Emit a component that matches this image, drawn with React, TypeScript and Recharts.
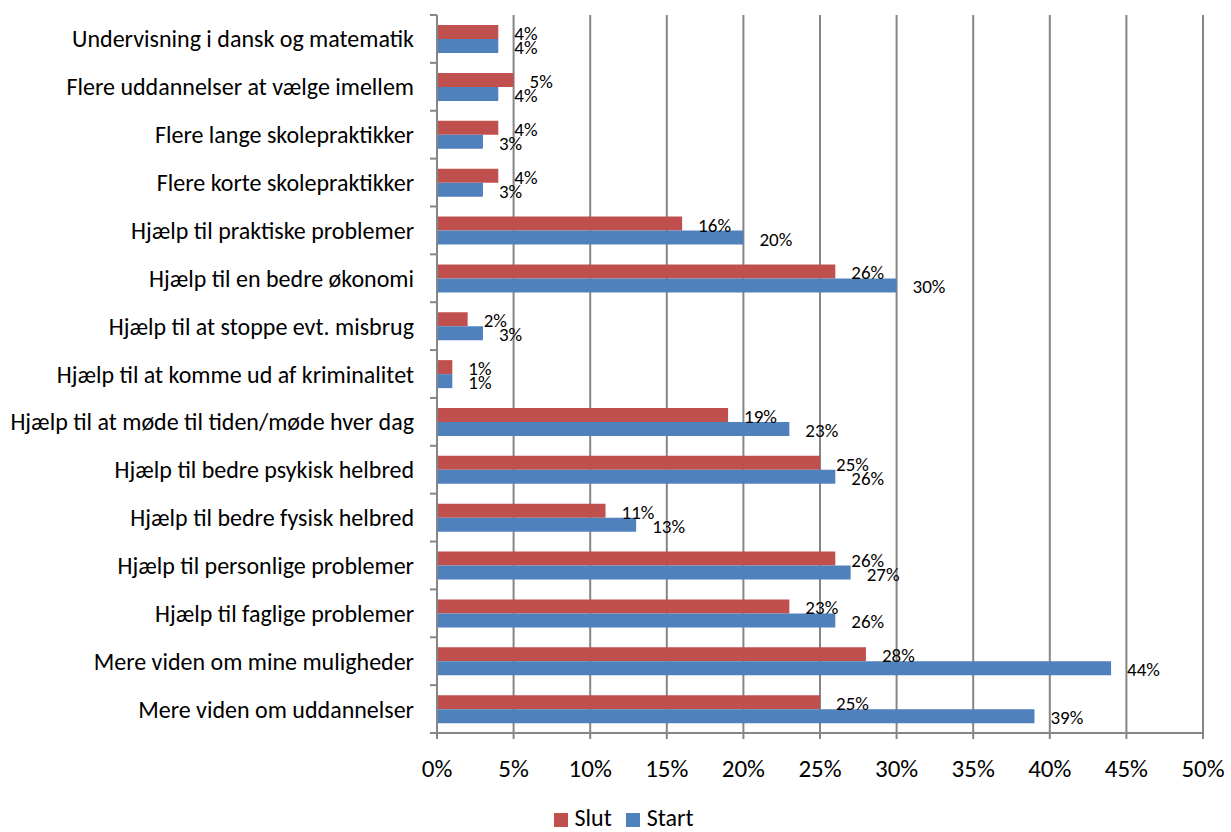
import React from "react";
import { BarChart, Bar, XAxis, YAxis, CartesianGrid, Legend, LabelList } from "recharts";

const categories = [
  "Undervisning i dansk og matematik",
  "Flere uddannelser at vælge imellem",
  "Flere lange skolepraktikker",
  "Flere korte skolepraktikker",
  "Hjælp til praktiske problemer",
  "Hjælp til en bedre økonomi",
  "Hjælp til at stoppe evt. misbrug",
  "Hjælp til at komme ud af kriminalitet",
  "Hjælp til at møde til tiden/møde hver dag",
  "Hjælp til bedre psykisk helbred",
  "Hjælp til bedre fysisk helbred",
  "Hjælp til personlige problemer",
  "Hjælp til faglige problemer",
  "Mere viden om mine muligheder",
  "Mere viden om uddannelser",
];

const slut = [4, 5, 4, 4, 16, 26, 2, 1, 19, 25, 11, 26, 23, 28, 25];
const start = [4, 4, 3, 3, 20, 30, 3, 1, 23, 26, 13, 27, 26, 44, 39];

const xTicks = [0, 5, 10, 15, 20, 25, 30, 35, 40, 45, 50];

const data = categories.map((name, i) => ({ name, slut: slut[i], start: start[i] }));

const FONT = "Carlito, Calibri, Lato, sans-serif";
const GRID = "#868686";
const PLOT_TOP = 15;
const PLOT_BOTTOM = 733;
const BAND = (PLOT_BOTTOM - PLOT_TOP) / categories.length;

// category label plus the Excel-style tick marks between categories
function CategoryTick(props: any) {
  const { x, y, payload, index } = props;
  return (
    <g>
      <line x1={x - 7} x2={x} y1={y - BAND / 2} y2={y - BAND / 2} stroke={GRID} strokeWidth={2} />
      {index === categories.length - 1 && (
        <line x1={x - 7} x2={x} y1={y + BAND / 2} y2={y + BAND / 2} stroke={GRID} strokeWidth={2} />
      )}
      <text x={x - 23} y={y} textAnchor="end" dominantBaseline="central" fontSize={24} fill="#000" fontFamily={FONT}>
        {payload.value}
      </text>
    </g>
  );
}

function EndLabel(props: any) {
  const { x, y, width, height, value } = props;
  return (
    <text x={x + width + 16} y={y + height / 2 + 1.5} dominantBaseline="central" fontSize={19} fill="#000" fontFamily={FONT}>
      {value}%
    </text>
  );
}

export default function App() {
  return (
    <div style={{ position: "absolute", left: 0, top: 0, width: 1231, height: 832, background: "#fff" }}>
      <BarChart
        width={1231}
        height={832}
        data={data}
        layout="vertical"
        margin={{ top: PLOT_TOP, right: 28, bottom: 0, left: 0 }}
        barCategoryGap="21%"
        barGap={0}
      >
        <CartesianGrid horizontal={false} stroke={GRID} strokeWidth={2} />
        <XAxis
          type="number"
          domain={[0, 50]}
          ticks={xTicks}
          tickFormatter={(v: number) => `${v}%`}
          stroke={GRID}
          strokeWidth={2}
          tickSize={6}
          tickMargin={20}
          height={71}
          tick={{ fill: "#000", fontSize: 25, fontFamily: FONT }}
          interval={0}
        />
        <YAxis
          type="category"
          dataKey="name"
          width={437}
          stroke={GRID}
          strokeWidth={2}
          tickLine={false}
          tickSize={0}
          tickMargin={0}
          interval={0}
          tick={<CategoryTick />}
        />
        <Legend
          verticalAlign="bottom"
          align="center"
          iconType="square"
          iconSize={14}
          wrapperStyle={{
            bottom: 0,
            left: 15,
            width: 1231,
            height: 28,
            lineHeight: "28px",
            fontFamily: FONT,
            fontSize: 24,
          }}
          formatter={(value: string) => (
            <span style={{ color: "#000", marginLeft: 3, marginRight: 4 }}>{value}</span>
          )}
        />
        <Bar dataKey="slut" name="Slut" fill="#C0504D" isAnimationActive={false}>
          <LabelList dataKey="slut" content={<EndLabel />} />
        </Bar>
        <Bar dataKey="start" name="Start" fill="#4F81BD" isAnimationActive={false}>
          <LabelList dataKey="start" content={<EndLabel />} />
        </Bar>
      </BarChart>
    </div>
  );
}
